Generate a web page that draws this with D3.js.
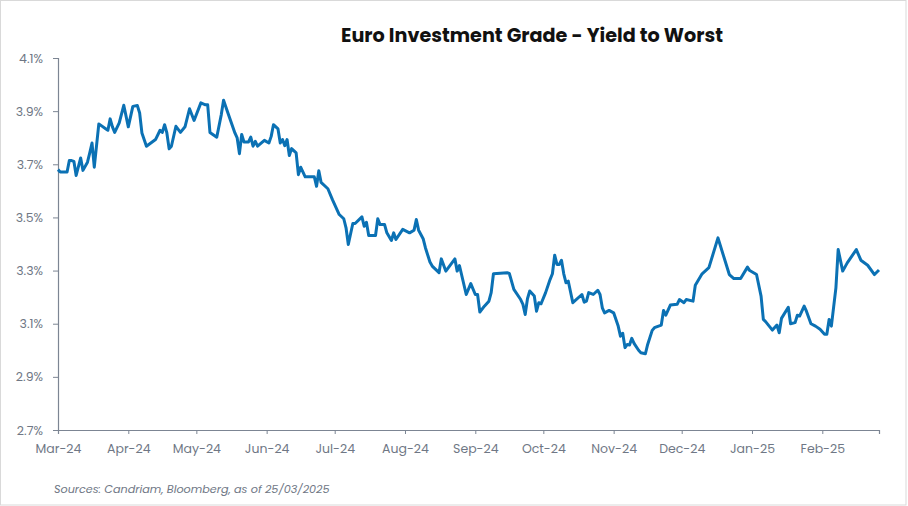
<!DOCTYPE html>
<html>
<head>
<meta charset="utf-8">
<script src="https://cdn.jsdelivr.net/npm/d3@7"></script>
<style>
  body { margin: 0; background: #fff; }
  svg { display: block; }
</style>
</head>
<body>
<div id="chart"></div>
<script>
const FRAME_WIDTH = 908;
const FRAME_HEIGHT = 506;
const MARGINS = {left: 58, right: 29, top: 58, bottom: 76};

// data
const TITLE = "Euro Investment Grade - Yield to Worst";
const SOURCE = "Sources: Candriam, Bloomberg, as of 25/03/2025";
const Y_TICKS = [2.7, 2.9, 3.1, 3.3, 3.5, 3.7, 3.9, 4.1];
const X_TICK_LABELS = ["Mar-24", "Apr-24", "May-24", "Jun-24", "Jul-24", "Aug-24",
                       "Sep-24", "Oct-24", "Nov-24", "Dec-24", "Jan-25", "Feb-25"];

const DATES = [
  "2024-03-01","2024-03-02","2024-03-05","2024-03-06","2024-03-07","2024-03-08","2024-03-09","2024-03-11",
  "2024-03-12","2024-03-14","2024-03-15","2024-03-16","2024-03-17","2024-03-19","2024-03-22","2024-03-23",
  "2024-03-24","2024-03-25","2024-03-26","2024-03-28","2024-03-30","2024-04-01","2024-04-03","2024-04-05",
  "2024-04-06","2024-04-07","2024-04-09","2024-04-13","2024-04-15","2024-04-16","2024-04-17","2024-04-18",
  "2024-04-19","2024-04-20","2024-04-22","2024-04-24","2024-04-26","2024-04-28","2024-04-30","2024-05-03",
  "2024-05-05","2024-05-06","2024-05-07","2024-05-10","2024-05-12","2024-05-13","2024-05-15","2024-05-18",
  "2024-05-19","2024-05-20","2024-05-21","2024-05-22","2024-05-24","2024-05-25","2024-05-26","2024-05-27",
  "2024-05-28","2024-05-31","2024-06-02","2024-06-03","2024-06-04","2024-06-06","2024-06-07","2024-06-08",
  "2024-06-09","2024-06-10","2024-06-11","2024-06-12","2024-06-14","2024-06-15","2024-06-16","2024-06-18",
  "2024-06-22","2024-06-23","2024-06-24","2024-06-25","2024-06-28","2024-06-30","2024-07-03","2024-07-05",
  "2024-07-06","2024-07-07","2024-07-09","2024-07-10","2024-07-13","2024-07-14","2024-07-15","2024-07-16",
  "2024-07-19","2024-07-20","2024-07-21","2024-07-23","2024-07-24","2024-07-26","2024-07-27","2024-07-28",
  "2024-07-31","2024-08-03","2024-08-05","2024-08-06","2024-08-07","2024-08-09","2024-08-10","2024-08-12",
  "2024-08-13","2024-08-16","2024-08-17","2024-08-19","2024-08-23","2024-08-24","2024-08-25","2024-08-28",
  "2024-08-30","2024-09-01","2024-09-02","2024-09-03","2024-09-05","2024-09-07","2024-09-08","2024-09-09",
  "2024-09-15","2024-09-16","2024-09-18","2024-09-21","2024-09-22","2024-09-23","2024-09-24","2024-09-25",
  "2024-09-27","2024-09-28","2024-09-29","2024-09-30","2024-10-02","2024-10-04","2024-10-05","2024-10-06",
  "2024-10-07","2024-10-08","2024-10-09","2024-10-10","2024-10-11","2024-10-12","2024-10-14","2024-10-18",
  "2024-10-19","2024-10-20","2024-10-21","2024-10-23","2024-10-25","2024-10-26","2024-10-27","2024-10-28",
  "2024-10-30","2024-11-01","2024-11-03","2024-11-04","2024-11-05","2024-11-06","2024-11-07","2024-11-08",
  "2024-11-09","2024-11-10","2024-11-12","2024-11-13","2024-11-15","2024-11-16","2024-11-18","2024-11-19",
  "2024-11-22","2024-11-23","2024-11-24","2024-11-26","2024-11-29","2024-11-30","2024-12-02","2024-12-03",
  "2024-12-06","2024-12-07","2024-12-10","2024-12-13","2024-12-17","2024-12-22","2024-12-24","2024-12-27",
  "2024-12-30","2024-12-31","2025-01-03","2025-01-05","2025-01-06","2025-01-07","2025-01-10","2025-01-12",
  "2025-01-13","2025-01-14","2025-01-17","2025-01-18","2025-01-20","2025-01-21","2025-01-22","2025-01-24",
  "2025-01-25","2025-01-27","2025-01-29","2025-01-31","2025-02-02","2025-02-03","2025-02-04","2025-02-05",
  "2025-02-07","2025-02-08","2025-02-10","2025-02-12","2025-02-16","2025-02-18","2025-02-21","2025-02-24",
  "2025-02-26"
];

const YTW = [
  3.680,3.671,3.671,3.714,3.714,3.711,3.658,3.724,
  3.677,3.708,3.743,3.780,3.689,3.852,3.834,3.828,
  3.871,3.841,3.820,3.856,3.922,3.841,3.918,3.921,
  3.893,3.818,3.768,3.793,3.828,3.820,3.849,3.818,
  3.758,3.768,3.843,3.820,3.841,3.909,3.865,3.931,
  3.924,3.924,3.820,3.802,3.887,3.941,3.891,3.818,
  3.799,3.740,3.812,3.784,3.784,3.802,3.768,3.786,
  3.768,3.790,3.780,3.805,3.849,3.833,3.780,3.793,
  3.770,3.793,3.733,3.759,3.743,3.661,3.689,3.653,
  3.653,3.617,3.676,3.632,3.608,3.567,3.511,3.495,
  3.461,3.398,3.477,3.477,3.502,3.467,3.482,3.432,
  3.432,3.495,3.473,3.473,3.442,3.413,3.442,3.417,
  3.455,3.442,3.452,3.492,3.452,3.420,3.386,3.332,
  3.317,3.292,3.344,3.298,3.344,3.298,3.319,3.210,
  3.251,3.210,3.210,3.144,3.166,3.185,3.217,3.288,
  3.292,3.289,3.229,3.191,3.173,3.135,3.194,3.223,
  3.204,3.147,3.179,3.175,3.217,3.267,3.288,3.358,
  3.323,3.323,3.339,3.288,3.254,3.260,3.179,3.210,
  3.181,3.185,3.217,3.210,3.226,3.210,3.160,3.141,
  3.150,3.141,3.091,3.053,3.064,3.010,3.022,3.020,
  3.045,3.026,3.000,2.991,2.987,3.022,3.075,3.085,
  3.095,3.150,3.132,3.170,3.173,3.191,3.179,3.191,
  3.185,3.245,3.288,3.311,3.423,3.285,3.270,3.270,
  3.313,3.300,3.285,3.204,3.116,3.108,3.076,3.095,
  3.066,3.120,3.162,3.100,3.104,3.132,3.129,3.166,
  3.147,3.100,3.091,3.079,3.060,3.060,3.116,3.091,
  3.235,3.379,3.298,3.329,3.379,3.339,3.320,3.285,
  3.302
];

const X_START = "2024-03-01";
const X_END = "2025-02-26";

const parseDate = d3.timeParse("%Y-%m-%d");
const data = DATES.map((d, i) => ({date: parseDate(d), value: YTW[i]}));

const VIS_WIDTH = FRAME_WIDTH - MARGINS.left - MARGINS.right;
const VIS_HEIGHT = FRAME_HEIGHT - MARGINS.top - MARGINS.bottom;

const AXIS_COLOR = "#7c8593";
const TEXT_COLOR = "#6f7785";
const FONT = "Poppins, 'Open Sans', Lato, sans-serif";

const FRAME = d3.select("#chart")
  .append("svg")
    .attr("width", FRAME_WIDTH)
    .attr("height", FRAME_HEIGHT);

// outer border
FRAME.append("rect")
  .attr("x", 0.5).attr("y", 0.5)
  .attr("width", FRAME_WIDTH - 2.5).attr("height", FRAME_HEIGHT - 1.5)
  .attr("fill", "#fff")
  .attr("stroke", "#d9d9d9");

const X_SCALE = d3.scaleTime()
  .domain([parseDate(X_START), parseDate(X_END)])
  .range([0, VIS_WIDTH]);

const Y_SCALE = d3.scaleLinear()
  .domain([d3.min(Y_TICKS), d3.max(Y_TICKS)])
  .range([VIS_HEIGHT, 0]);

const g = FRAME.append("g")
  .attr("transform", `translate(${MARGINS.left},${MARGINS.top})`);

// y axis
const yAxis = g.append("g")
  .call(d3.axisLeft(Y_SCALE)
    .tickValues(Y_TICKS)
    .tickSize(5)
    .tickPadding(10)
    .tickFormat(d => d3.format(".1f")(d) + "%"));

// x axis, monthly ticks
const monthTicks = d3.timeMonth.range(parseDate(X_START), parseDate(X_END));
const xAxis = g.append("g")
  .attr("transform", `translate(0,${VIS_HEIGHT})`)
  .call(d3.axisBottom(X_SCALE)
    .tickValues(monthTicks)
    .tickSize(4)
    .tickPadding(10)
    .tickFormat((d, i) => X_TICK_LABELS[i]));

[xAxis, yAxis].forEach(ax => {
  ax.select(".domain").attr("stroke", AXIS_COLOR).attr("stroke-width", 1.2);
  ax.selectAll(".tick line").attr("stroke", AXIS_COLOR);
  ax.selectAll(".tick text")
    .attr("fill", TEXT_COLOR)
    .style("font-family", FONT)
    .style("font-size", "12.5px");
});

// the series
const line = d3.line()
  .x(d => X_SCALE(d.date))
  .y(d => Y_SCALE(d.value));

g.append("path")
  .datum(data)
  .attr("fill", "none")
  .attr("stroke", "#0b71b4")
  .attr("stroke-width", 3)
  .attr("stroke-linejoin", "round")
  .attr("d", line);

// title
FRAME.append("text")
  .attr("x", 532)
  .attr("y", 42)
  .attr("text-anchor", "middle")
  .style("font-family", FONT)
  .style("font-weight", "bold")
  .style("font-size", "19.2px")
  .attr("fill", "#111")
  .text(TITLE);

// source note
FRAME.append("text")
  .attr("x", 54)
  .attr("y", 493)
  .style("font-family", FONT)
  .style("font-style", "italic")
  .style("font-size", "11.2px")
  .attr("fill", TEXT_COLOR)
  .text(SOURCE);
</script>
</body>
</html>
